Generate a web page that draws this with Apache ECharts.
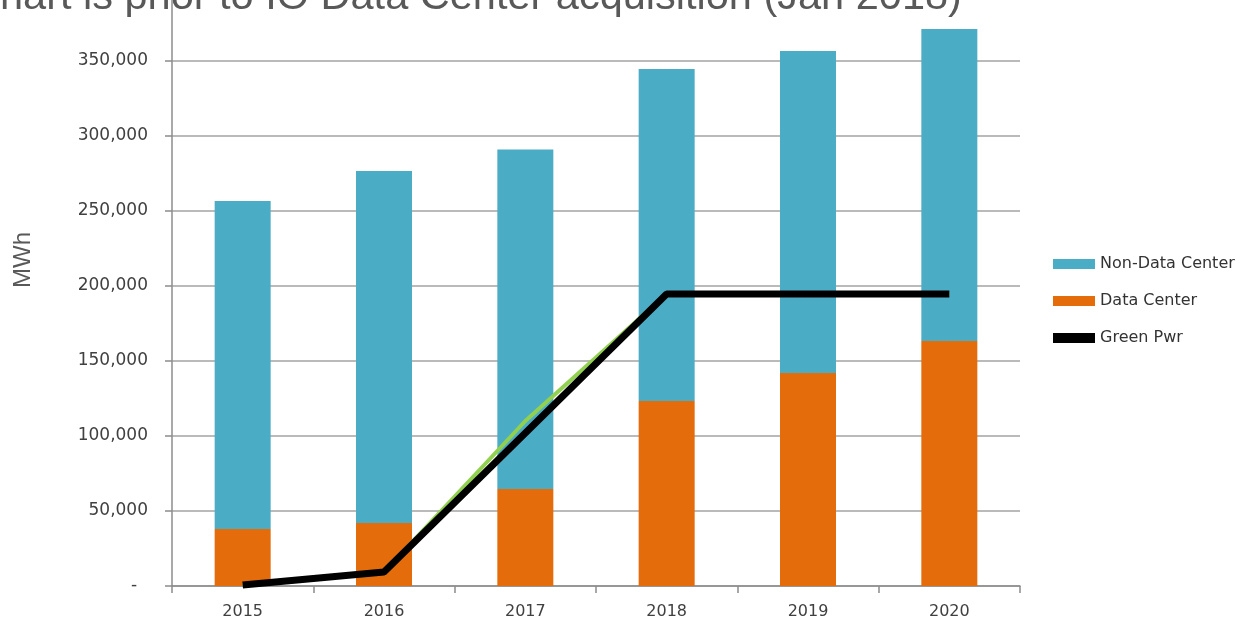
<!DOCTYPE html>
<html>
<head>
<meta charset="utf-8">
<script src="https://cdn.jsdelivr.net/npm/echarts@6/dist/echarts.min.js"></script>
<style>
  html, body { margin: 0; padding: 0; background: #fff; }
  #main { width: 1248px; height: 622px; }
</style>
</head>
<body>
<div id="main"></div>
<script>
// data (MWh)
var years = ['2015', '2016', '2017', '2018', '2019', '2020'];
var dataCenter = [38000, 42000, 64700, 123300, 142000, 163300];
var nonDataCenter = [218700, 234700, 226300, 221400, 214700, 208000];
var greenPwr = [700, 9300, 102000, 194700, 194700, 194700];
// thin green line that peeks out under the black one
var greenPwrUnder = [700, 9300, 110000, 194700, 194700, 194700];

var labelFont = 'DejaVu Sans';
var labelColor = '#404040';

var chartDom = document.getElementById('main');
var myChart = echarts.init(chartDom);

var option = {
    backgroundColor: '#ffffff',
    animation: false,
    graphic: [
        {
            type: 'text',
            x: 0,
            y: -2,
            style: {
                text: 'hart is prior to IO Data Center acquisition (Jan 2018)',
                font: '41.5px "Liberation Sans"',
                fill: '#595959',
                verticalAlign: 'middle'
            }
        },
        {
            type: 'text',
            x: 23,
            y: 260,
            rotation: Math.PI / 2,
            style: {
                text: 'MWh',
                font: '24px "Liberation Sans"',
                fill: '#595959',
                align: 'center',
                verticalAlign: 'middle'
            }
        }
    ],
    legend: {
        orient: 'vertical',
        left: 1048,
        top: 251,
        itemWidth: 42,
        itemHeight: 10,
        itemGap: 21,
        textStyle: { fontFamily: labelFont, fontSize: 16, color: '#333' },
        data: [
            { name: 'Non-Data Center', icon: 'rect' },
            { name: 'Data Center', icon: 'rect' },
            { name: 'Green Pwr', icon: 'rect' }
        ]
    },
    grid: { left: 172, right: 228, top: -14, bottom: 36, outerBoundsMode: 'none' },
    xAxis: {
        type: 'category',
        data: years,
        axisLine: { lineStyle: { color: '#8c8c8c', width: 1.5 } },
        axisTick: { show: true, length: 7, lineStyle: { color: '#8c8c8c', width: 1.5 } },
        axisLabel: { fontFamily: labelFont, fontSize: 16, color: labelColor, margin: 18 }
    },
    yAxis: {
        type: 'value',
        min: 0,
        max: 400000,
        interval: 50000,
        axisLine: { show: true, lineStyle: { color: '#8c8c8c', width: 1.5 } },
        axisTick: { show: true, length: 7, lineStyle: { color: '#8c8c8c', width: 1.5 } },
        splitLine: { lineStyle: { color: '#a3a3a3', width: 1.5 } },
        axisLabel: {
            fontFamily: labelFont,
            fontSize: 17,
            color: labelColor,
            margin: 24,
            formatter: function (v) {
                if (v === 0) return '-  ';
                if (v >= 400000) return '';
                return v.toLocaleString('en-US');
            }
        }
    },
    series: [
        {
            name: 'Data Center',
            type: 'bar',
            stack: 'total',
            barWidth: 56,
            itemStyle: { color: '#e46c0a' },
            data: dataCenter
        },
        {
            name: 'Non-Data Center',
            type: 'bar',
            stack: 'total',
            barWidth: 56,
            itemStyle: { color: '#4bacc6' },
            data: nonDataCenter
        },
        {
            name: 'Green Pwr (under)',
            type: 'line',
            symbol: 'none',
            z: 3,
            lineStyle: { color: '#92d050', width: 4 },
            data: greenPwrUnder
        },
        {
            name: 'Green Pwr',
            type: 'line',
            symbol: 'none',
            z: 4,
            itemStyle: { color: '#000' },
            lineStyle: { color: '#000', width: 7 },
            data: greenPwr
        }
    ]
};

myChart.setOption(option);
</script>
</body>
</html>
